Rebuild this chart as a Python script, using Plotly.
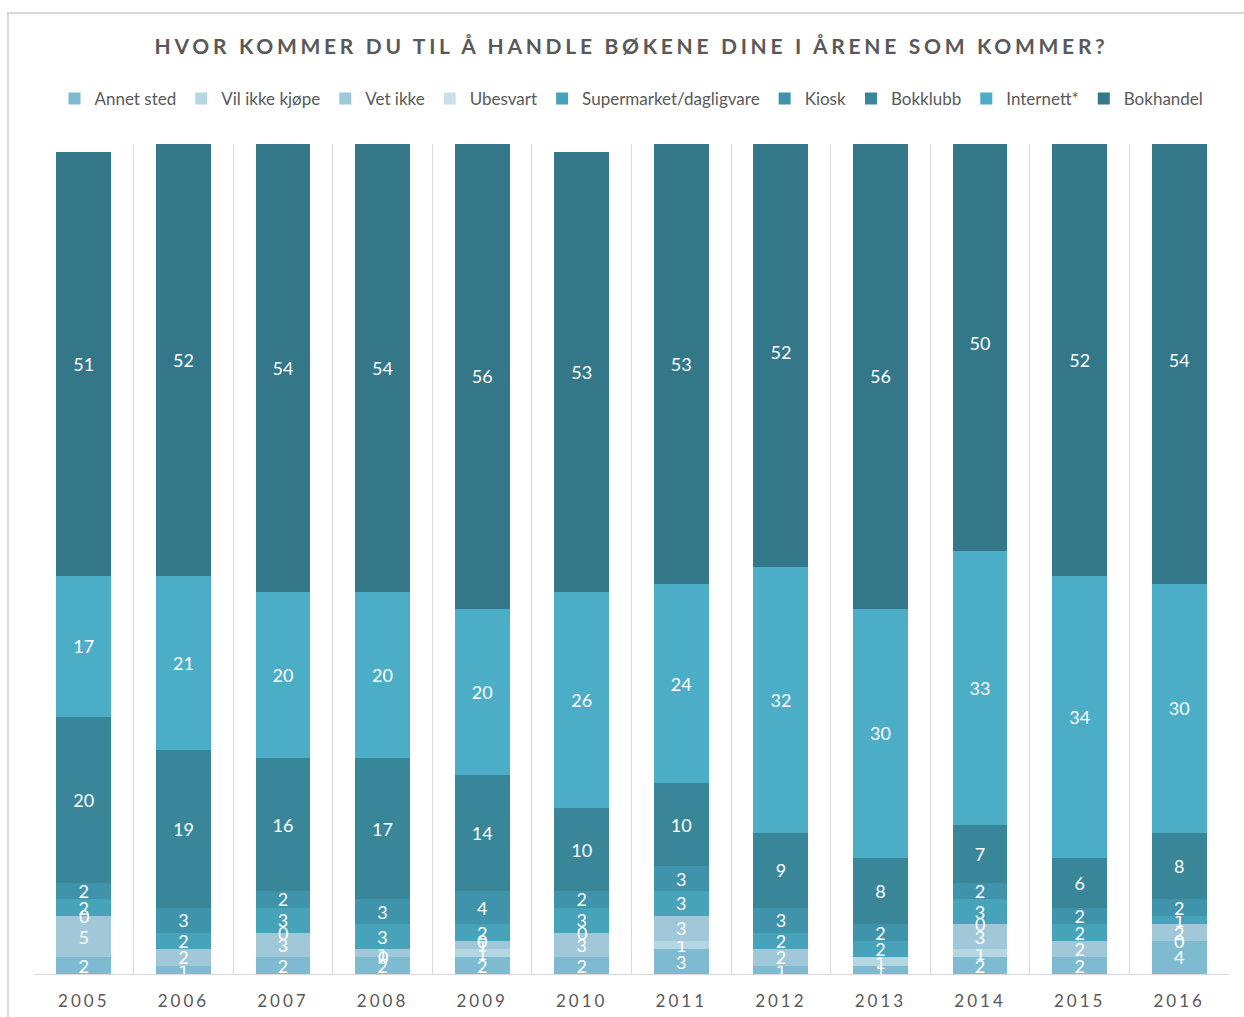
import plotly.graph_objects as go

years = ["2005", "2006", "2007", "2008", "2009", "2010", "2011", "2012", "2013", "2014", "2015", "2016"]

series_names = ["Annet sted", "Vil ikke kjøpe", "Vet ikke", "Ubesvart", "Supermarket/dagligvare",
                "Kiosk", "Bokklubb", "Internett*", "Bokhandel"]

annet_sted = [2, 1, 2, 2, 2, 2, 3, 1, 1, 2, 2, 4]
vil_ikke_kjope = [None, None, None, 0, 1, None, 1, None, 1, 1, None, 0]
vet_ikke = [5, 2, 3, 1, 1, 3, 3, 2, None, 3, 2, 2]
ubesvart = [0, None, 0, None, 0, 0, None, None, None, 0, None, None]
supermarket = [2, 2, 3, 3, 2, 3, 3, 2, 2, 3, 2, 1]
kiosk = [2, 3, 2, 3, 4, 2, 3, 3, 2, 2, 2, 2]
bokklubb = [20, 19, 16, 17, 14, 10, 10, 9, 8, 7, 6, 8]
internett = [17, 21, 20, 20, 20, 26, 24, 32, 30, 33, 34, 30]
bokhandel = [51, 52, 54, 54, 56, 53, 53, 52, 56, 50, 52, 54]

series_values = [annet_sted, vil_ikke_kjope, vet_ikke, ubesvart, supermarket,
                 kiosk, bokklubb, internett, bokhandel]

colors = ["#7fbbd0", "#b4d7e2", "#a0c8d8", "#c9e0e8", "#47a3b9",
          "#3f93aa", "#3a8699", "#4badc6", "#337789"]

FONT = "Lato"
GREY = "#595959"
LABEL_SIZE = 18

fig = go.Figure()
for name, vals, col in zip(series_names, series_values, colors):
    fig.add_trace(go.Bar(
        x=years, y=vals, name=name,
        marker=dict(color=col, line=dict(width=0)),
        texttemplate="%{y}",
        textposition="inside",
        insidetextanchor="middle",
        textangle=0,
        constraintext="none",
        textfont=dict(color="white", size=LABEL_SIZE, family=FONT),
    ))

# zero-valued segments have no height, so plotly drops their labels;
# place those "0" labels at the stack position derived from the data
# (category axis: use the category index as the x position)
zero_labels = []
for i, yr in enumerate(years):
    cum = 0
    for vals in series_values:
        v = vals[i]
        if v is None:
            continue
        if v == 0:
            zero_labels.append(dict(
                x=i, y=cum, xref="x", yref="y", text="0", showarrow=False,
                font=dict(color="white", size=LABEL_SIZE, family=FONT),
                xanchor="center", yanchor="middle",
            ))
        cum += v

W, H = 1244, 1017
L, R, T, B = 34, 15, 144, 43
pw = W - L - R
ph = H - T - B

fig.update_layout(
    width=W, height=H,
    barmode="stack",
    bargap=0.45,
    paper_bgcolor="white",
    plot_bgcolor="white",
    margin=dict(l=L, r=R, t=T, b=B, autoexpand=False),
    font=dict(family=FONT, color=GREY),
    title=dict(
        text="<b>HVOR KOMMER DU TIL Å HANDLE BØKENE DINE I ÅRENE SOM KOMMER?</b>",
        x=0.5, xanchor="center", xref="paper",
        y=1 - 47 / H, yanchor="middle", yref="container",
        font=dict(size=21, color=GREY, family=FONT),
    ),
    legend=dict(
        orientation="h",
        x=0.5, xanchor="center", xref="paper",
        y=1 - 99 / H, yanchor="middle", yref="container",
        traceorder="normal",
        font=dict(size=17, color=GREY, family=FONT),
        itemwidth=30,
        bgcolor="rgba(0,0,0,0)",
    ),
    xaxis=dict(
        type="category",
        categoryorder="array", categoryarray=years,
        range=[-0.5, len(years) - 0.5],
        tickson="boundaries",
        showgrid=True, gridcolor="#d9d9d9", gridwidth=1,
        showline=True, linecolor="#d9d9d9", linewidth=1,
        ticks="", ticklabelstandoff=12,
        tickfont=dict(size=17, color=GREY, family=FONT),
        fixedrange=True,
    ),
    yaxis=dict(
        range=[0, 100], visible=False, showgrid=False, zeroline=False,
        fixedrange=True,
    ),
    annotations=zero_labels,
    shapes=[dict(
        type="rect", xref="paper", yref="paper", layer="below",
        x0=(8 - L) / pw, x1=(W + 10 - L) / pw,
        y0=(H - B - (H + 10)) / ph, y1=(H - B - 13) / ph,
        line=dict(color="#d9d9d9", width=2), fillcolor="rgba(0,0,0,0)",
    )],
)

post = """
document.body.style.margin = '0';
document.body.style.padding = '0';
document.body.style.overflow = 'hidden';
var st = document.createElement('style');
st.innerHTML = '.gtitle{letter-spacing:3.7px;} .xtick text{letter-spacing:3px;}';
document.head.appendChild(st);
"""

fig.write_html("out.html", post_script=post, config={"displayModeBar": False})
